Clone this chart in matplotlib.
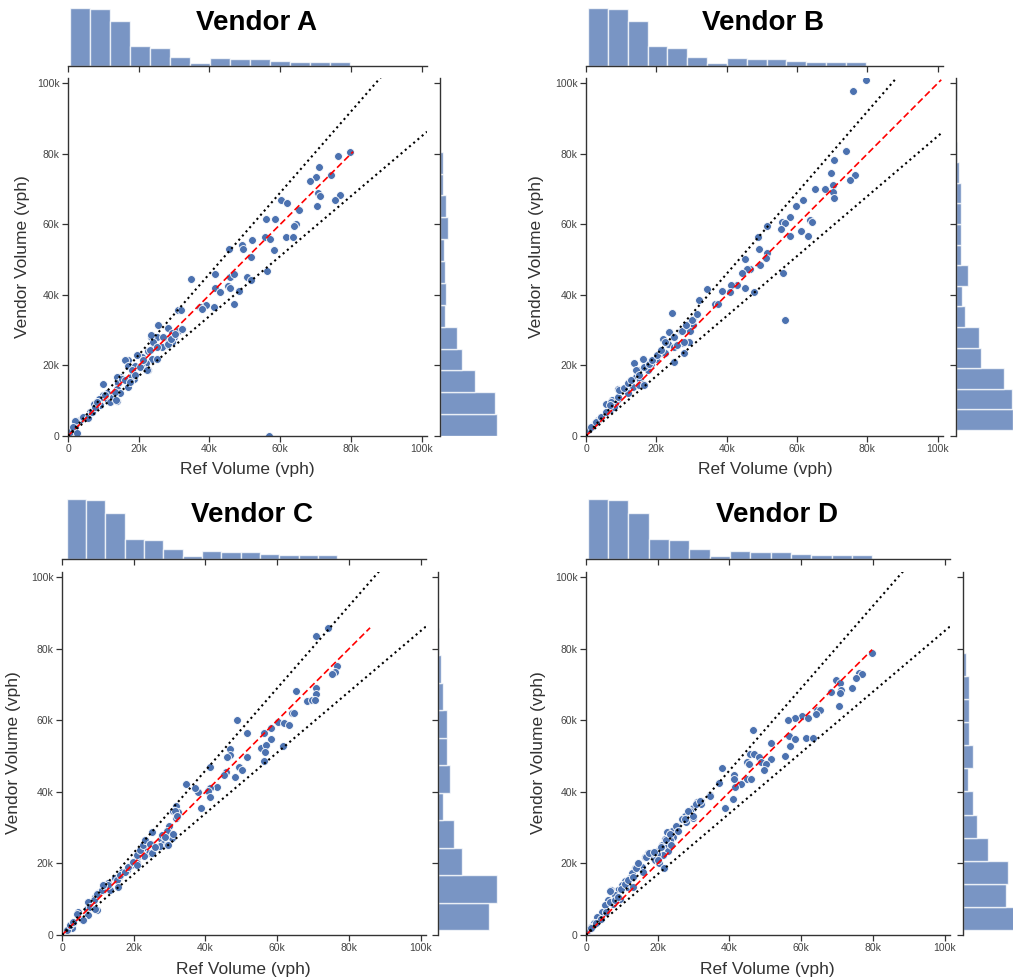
import numpy as np
import matplotlib
matplotlib.use('Agg')
import matplotlib.pyplot as plt
from matplotlib.ticker import FuncFormatter

plt.rcParams['font.family'] = ['Liberation Sans', 'DejaVu Sans']

# volumes in thousands of vehicles per hour
a_ref = [79.7, 76.2, 71.0, 74.3, 70.0, 68.4, 70.7, 71.2, 76.9, 75.5,
         70.4, 60.2, 62.0, 65.3, 56.1, 58.5, 64.6, 64.0, 52.0, 55.6,
         57.0, 61.6, 63.5, 49.2, 49.5, 45.5, 58.3, 51.7, 50.5, 51.6,
         56.4, 45.8, 47.0, 41.5, 34.7, 41.5, 45.1, 45.8, 48.3, 43.1,
         47.0, 41.2, 38.9, 37.3, 37.9, 31.2, 31.9, 25.5, 28.4, 32.1,
         31.0, 29.5, 29.9, 28.3, 29.5, 27.9, 23.4, 25.1, 26.5, 24.3,
         22.7, 23.8, 25.1, 22.7, 20.8, 22.0, 19.4, 20.5, 17.0, 16.1,
         16.9, 18.9, 18.7, 17.7, 15.9, 17.0, 14.7, 13.9, 14.2, 13.8,
         14.7, 13.8, 12.3, 11.4, 9.8, 10.9, 10.0, 8.8, 9.0, 8.1,
         7.3, 7.1, 6.2, 5.6, 4.3, 3.4, 2.3, 2.0, 1.0, 2.6, 0.6, 56.8,
         2.0, 1.5, 2.5, 4.3, 5.7, 6.7, 7.6, 8.3, 10.5, 11.9,
         12.8, 13.3, 15.2, 16.1, 13.7, 18.0, 18.9, 17.5, 20.3, 21.3,
         22.4, 23.2, 23.9, 23.6, 25.1, 26.9, 28.3, 29.1, 30.2, 32.1]
a_vendor = [80.6, 79.5, 76.3, 74.1, 73.3, 72.3, 68.8, 68.1, 68.3, 66.9,
            65.2, 66.9, 66.2, 64.0, 61.4, 61.4, 60.1, 59.6, 55.7, 56.3,
            55.9, 56.4, 56.4, 54.2, 53.1, 52.9, 52.7, 50.8, 45.2, 44.3,
            46.7, 45.2, 45.8, 45.8, 44.4, 42.0, 42.4, 42.0, 41.2, 40.8,
            37.5, 36.5, 37.0, 36.5, 36.0, 35.6, 35.6, 31.4, 30.7, 30.2,
            29.9, 29.2, 28.0, 27.6, 26.6, 25.7, 28.0, 28.0, 25.2, 25.2,
            24.1, 21.7, 21.9, 18.6, 22.4, 20.7, 22.9, 19.8, 21.5, 21.5,
            19.8, 19.8, 16.3, 16.8, 16.3, 13.8, 16.8, 16.8, 14.9, 13.2,
            12.3, 10.0, 11.1, 10.2, 14.7, 12.2, 11.6, 10.6, 8.8, 9.7,
            9.0, 7.3, 6.9, 5.7, 5.2, 4.5, 4.2, 2.6, 1.7, 0.6, 1.2, 0.0,
            4.3, 2.6, 0.8, 5.5, 5.0, 6.9, 8.3, 9.7, 11.6, 9.7,
            11.1, 12.5, 16.3, 15.8, 10.3, 18.6, 17.2, 15.3, 19.6, 21.5,
            18.6, 24.3, 26.6, 28.5, 25.2, 28.0, 26.2, 27.6, 29.0, 30.4]

b_ref = [79.5, 75.8, 73.8, 70.6, 69.7, 76.6, 75.2, 70.3, 65.0, 68.0,
         70.1, 70.6, 61.6, 59.8, 57.9, 55.8, 56.7, 63.6, 64.2, 55.3,
         51.5, 61.2, 57.9, 63.0, 48.9, 49.2, 51.5, 51.2, 45.2, 49.5,
         46.6, 45.7, 44.4, 56.0, 45.1, 47.9, 42.9, 41.2, 40.9, 38.6,
         34.3, 36.6, 37.6, 32.0, 24.5, 56.5, 31.7, 30.5, 29.2, 30.5,
         28.4, 27.0, 29.6, 23.5, 24.7, 22.0, 29.2, 23.2, 27.5, 24.9,
         21.4, 22.6, 28.0, 24.9, 20.0, 18.6, 17.1, 16.2, 13.6, 17.6,
         14.8, 14.3, 12.6, 15.3, 16.2, 13.4, 9.1, 10.1, 11.5, 12.0,
         9.1, 7.3, 5.8, 8.2, 6.8, 4.4, 3.5, 2.5, 1.4, 0.6,
         1.5, 2.9, 4.3, 5.7, 7.1, 8.1, 6.7, 9.0, 9.5, 10.9,
         11.9, 12.8, 14.2, 15.2, 16.6, 18.0, 18.9, 20.3, 21.3, 22.4,
         23.6, 25.0, 26.0, 27.4, 28.3, 30.2, 31.6, 27.9, 25.0, 15.2, 16.6, 16.1]
b_vendor = [101.0, 97.7, 80.8, 78.2, 74.5, 74.0, 72.5, 71.1, 70.1, 70.0,
            69.3, 67.5, 66.9, 65.3, 62.1, 60.7, 60.4, 61.2, 60.8, 58.6,
            59.4, 58.0, 56.6, 56.6, 56.3, 53.0, 51.8, 50.4, 50.3, 48.5,
            47.4, 47.4, 46.2, 46.2, 42.0, 40.8, 42.7, 42.9, 40.8, 41.2,
            41.7, 37.3, 37.3, 38.7, 34.8, 33.0, 34.5, 33.1, 31.8, 31.6,
            30.9, 29.9, 29.9, 29.5, 28.0, 27.4, 26.7, 26.2, 26.4, 25.2,
            23.4, 23.5, 23.5, 20.9, 21.7, 20.5, 21.0, 21.9, 20.7, 18.6,
            18.6, 16.8, 15.6, 15.8, 14.7, 13.9, 13.3, 13.0, 13.0, 12.1,
            10.6, 10.2, 9.0, 9.2, 7.3, 5.3, 4.5, 3.6, 2.6, 1.7,
            2.6, 4.0, 5.5, 6.9, 9.7, 8.3, 8.8, 11.1, 13.0, 13.5,
            14.9, 15.8, 18.6, 17.2, 19.6, 20.5, 21.5, 22.9, 24.3, 26.6,
            29.5, 28.0, 25.7, 29.9, 31.4, 32.8, 34.7, 26.6, 21.0, 14.4, 14.4, 21.7]

c_ref = [74.2, 70.9, 76.8, 76.0, 75.3, 70.8, 70.9, 65.2, 68.2, 69.8,
         70.5, 64.0, 64.6, 60.1, 61.8, 63.3, 48.9, 51.7, 56.2, 58.2,
         58.2, 55.6, 56.8, 56.7, 61.6, 56.3, 51.6, 49.3, 50.3, 46.8,
         46.8, 45.9, 45.6, 45.1, 48.2, 41.2, 43.1, 41.4, 40.8, 41.4,
         37.8, 37.0, 34.5, 38.7, 31.8, 31.0, 32.4, 31.9, 29.8, 30.7,
         30.7, 29.2, 28.2, 27.6, 28.2, 27.3, 29.2, 25.0, 23.1, 23.6,
         24.7, 22.5, 24.2, 21.7, 22.9, 20.8, 20.3, 21.0, 19.2, 18.0,
         16.6, 15.9, 14.8, 12.9, 11.3, 11.5, 13.4, 9.9, 9.2, 9.0,
         7.3, 6.9, 9.7, 7.3, 4.5, 5.8, 3.1, 2.2, 2.7, 1.3,
         2.2, 3.1, 4.1, 5.9, 7.3, 7.8, 9.2, 9.7, 11.1, 12.9,
         11.5, 15.2, 16.2, 17.5, 18.5, 19.9, 20.8, 21.7, 22.6, 23.1,
         24.5, 25.0, 25.9, 27.8, 28.7, 29.6, 31.0, 31.5, 32.2, 20.8, 15.7]
c_vendor = [85.9, 83.6, 75.2, 73.5, 72.9, 69.1, 67.4, 68.2, 65.5, 65.6,
            65.6, 62.2, 62.0, 59.6, 59.2, 58.6, 60.0, 56.6, 56.6, 58.0,
            54.8, 52.4, 53.2, 51.1, 52.9, 48.7, 49.7, 47.1, 46.1, 52.0,
            50.4, 49.7, 45.5, 44.6, 44.1, 47.1, 41.3, 41.1, 40.4, 38.5,
            39.9, 41.1, 42.3, 35.6, 36.2, 34.8, 34.5, 32.8, 30.6, 28.3,
            27.2, 29.2, 27.6, 26.9, 25.5, 24.8, 25.1, 28.8, 26.5, 25.1,
            25.5, 24.4, 22.8, 23.2, 22.1, 21.8, 20.6, 20.0, 19.5, 18.3,
            17.6, 16.2, 15.8, 14.6, 13.9, 12.5, 12.5, 11.8, 10.7, 9.7,
            9.1, 7.4, 7.0, 5.6, 6.5, 4.2, 3.3, 2.8, 1.9, 1.4,
            2.8, 3.7, 6.0, 4.2, 9.3, 7.9, 7.4, 11.6, 12.5, 13.9,
            13.9, 15.3, 16.7, 17.6, 19.0, 20.4, 22.3, 23.7, 25.1, 26.5,
            25.5, 22.8, 24.6, 27.9, 27.4, 25.1, 28.3, 34.8, 33.4, 19.5, 13.5]

d_ref = [79.8, 76.0, 77.0, 75.4, 69.8, 70.8, 71.0, 70.9, 68.2, 74.3,
         70.5, 64.5, 65.2, 64.0, 60.1, 61.9, 58.2, 56.2, 46.6, 56.5,
         58.2, 61.4, 63.3, 51.7, 57.0, 45.7, 46.8, 48.3, 51.5, 48.9,
         50.3, 44.9, 45.5, 55.6, 49.6, 45.0, 45.9, 37.8, 41.3, 41.3,
         43.1, 41.5, 37.1, 41.0, 38.7, 34.5, 32.0, 31.0, 32.2, 29.9,
         29.0, 29.7, 27.6, 28.0, 26.7, 25.4, 24.1, 22.6, 24.3, 22.0,
         23.4, 21.1, 22.5, 22.9, 20.3, 21.5, 19.7, 18.3, 17.4, 16.4,
         19.2, 20.3, 14.6, 13.6, 15.5, 12.7, 12.3, 10.9, 9.9, 11.3,
         13.0, 9.0, 7.0, 7.0, 8.0, 6.2, 9.5, 5.3, 7.6, 4.4,
         3.0, 2.3, 1.4, 0.5,
         1.5, 2.9, 4.3, 5.7, 6.6, 6.8, 8.0, 8.9, 9.8, 10.8,
         11.7, 13.1, 14.0, 14.5, 15.9, 16.8, 17.7, 19.1, 20.1, 21.0,
         22.4, 23.3, 23.8, 25.2, 25.6, 27.5, 28.4, 29.8, 30.7, 31.7, 34.5, 21.7]
d_vendor = [78.9, 73.2, 73.1, 71.9, 71.3, 70.4, 68.4, 67.6, 68.0, 69.1,
            63.9, 62.9, 63.0, 61.8, 61.1, 60.8, 60.6, 60.0, 57.4, 55.7,
            54.8, 55.0, 55.2, 53.6, 52.9, 50.6, 50.6, 49.7, 49.2, 48.3,
            47.8, 48.5, 47.8, 50.1, 46.2, 43.6, 43.5, 46.7, 44.6, 43.6,
            42.1, 41.5, 42.4, 38.1, 35.6, 39.2, 37.6, 37.1, 36.5, 35.6,
            34.8, 32.8, 33.4, 31.6, 32.3, 30.6, 29.2, 28.8, 27.4, 26.9,
            26.5, 25.1, 24.6, 23.5, 23.7, 22.3, 22.6, 22.3, 22.8, 21.8,
            20.9, 20.1, 19.7, 18.6, 19.1, 17.2, 15.8, 15.1, 13.9, 13.4,
            13.4, 12.5, 12.5, 12.0, 11.1, 9.9, 10.2, 8.4, 8.8, 6.5,
            5.1, 3.4, 2.3, 1.4,
            1.9, 3.3, 4.6, 6.5, 9.3, 12.3, 9.7, 10.7, 13.0, 14.4,
            15.3, 16.2, 18.6, 20.0, 17.6, 21.8, 22.8, 23.2, 20.9, 24.6,
            26.5, 28.3, 25.1, 30.6, 29.2, 32.5, 34.8, 33.4, 36.7, 37.6, 39.0, 18.6]

# marginal histogram counts (bottom/left bin first)
ref_hist = [44, 43, 34, 15, 14, 7, 2, 6, 5, 5, 4, 3, 3, 3]
a_hist = [44, 42, 27, 17, 13, 4, 5, 4, 3, 6, 5, 2, 2]
b_hist = [44, 43, 37, 19, 18, 7, 5, 9, 4, 4, 4, 4, 2, 1, 0, 0, 1]
c_hist = [38, 44, 18, 12, 4, 9, 7, 7, 4, 2, 1]
d_hist = [44, 33, 35, 19, 11, 8, 4, 8, 5, 5, 5, 2]

W, H = 1013, 980
BLUE = '#4C72B0'
LIM = 101.5
DARK = '#333333'


def box(l, t, r, b):
    return [l / W, 1 - b / H, (r - l) / W, (b - t) / H]


def k_fmt(v, pos):
    return '0' if v == 0 else '%dk' % v


def draw_panel(fig, title, ref, vend, vend_hist, main, top, side, title_xy, xlab_xy, ylab_xy):
    ref = np.array(ref)
    vend = np.array(vend)

    ax = fig.add_axes(box(*main))
    ax_top = fig.add_axes(box(*top), sharex=ax)
    ax_side = fig.add_axes(box(*side), sharey=ax)

    # scatter + reference lines
    ax.scatter(ref, vend, s=32, color=BLUE, edgecolor='white', linewidth=0.6, zorder=2)
    m = max(ref.max(), vend.max())
    ax.plot([0, m], [0, m], color='red', linestyle='--', dashes=(4, 2), linewidth=1.2, zorder=3)
    ax.plot([0, LIM], [0, 1.15 * LIM], color='black', linestyle=':', linewidth=1.5, zorder=3)
    ax.plot([0, LIM], [0, 0.85 * LIM], color='black', linestyle=':', linewidth=1.5, zorder=3)
    ax.set_xlim(0, LIM)
    ax.set_ylim(0, LIM)
    ax.set_xticks(range(0, 101, 20))
    ax.set_yticks(range(0, 101, 20))
    ax.xaxis.set_major_formatter(FuncFormatter(k_fmt))
    ax.yaxis.set_major_formatter(FuncFormatter(k_fmt))
    for s in ['top', 'right']:
        ax.spines[s].set_visible(False)

    # marginal histograms
    edges = np.linspace(ref.min(), ref.max(), len(ref_hist) + 1)
    ax_top.bar(edges[:-1], ref_hist, width=np.diff(edges), align='edge',
               color=BLUE, alpha=0.75, edgecolor='white', linewidth=1)
    edges = np.linspace(vend.min(), vend.max(), len(vend_hist) + 1)
    ax_side.barh(edges[:-1], vend_hist, height=np.diff(edges), align='edge',
                 color=BLUE, alpha=0.75, edgecolor='white', linewidth=1)

    for s in ['top', 'right', 'left']:
        ax_top.spines[s].set_visible(False)
    for s in ['top', 'right', 'bottom']:
        ax_side.spines[s].set_visible(False)
    ax_top.tick_params(axis='x', labelbottom=False)
    ax_top.tick_params(axis='y', left=False, labelleft=False)
    ax_side.tick_params(axis='y', labelleft=False)
    ax_side.tick_params(axis='x', bottom=False, labelbottom=False)

    for a in [ax, ax_top, ax_side]:
        for s in a.spines.values():
            s.set_color(DARK)
            s.set_linewidth(1.0)
        a.tick_params(length=4, width=0.9, color=DARK, labelsize=7.5, labelcolor='#444444', pad=2)

    fig.text(title_xy[0] / W, 1 - title_xy[1] / H, title, ha='center', va='center',
             fontsize=20, fontweight='bold', color='black')
    fig.text(xlab_xy[0] / W, 1 - xlab_xy[1] / H, 'Ref Volume (vph)', ha='center', va='center',
             fontsize=12.5, color=DARK)
    fig.text(ylab_xy[0] / W, 1 - ylab_xy[1] / H, 'Vendor Volume (vph)', ha='center', va='center',
             rotation=90, fontsize=12.5, color=DARK)


fig = plt.figure(figsize=(W / 100, H / 100), dpi=100)

draw_panel(fig, 'Vendor A', a_ref, a_vendor, a_hist,
           (68, 78, 427, 436), (68, 5, 427, 66), (440, 78, 500, 436),
           (257, 23), (247, 469), (23, 257))
draw_panel(fig, 'Vendor B', b_ref, b_vendor, b_hist,
           (586, 78, 943, 436), (586, 5, 943, 66), (956, 78, 1016, 436),
           (763, 23), (765, 469), (537, 257))
draw_panel(fig, 'Vendor C', c_ref, c_vendor, c_hist,
           (62, 572, 426, 935), (62, 496, 426, 559), (438, 572, 500, 935),
           (252, 515), (243, 969), (14, 753))
draw_panel(fig, 'Vendor D', d_ref, d_vendor, d_hist,
           (586, 572, 950, 935), (586, 496, 950, 559), (963, 572, 1023, 935),
           (777, 515), (767, 969), (538, 753))

fig.savefig('out.png', dpi=100)
